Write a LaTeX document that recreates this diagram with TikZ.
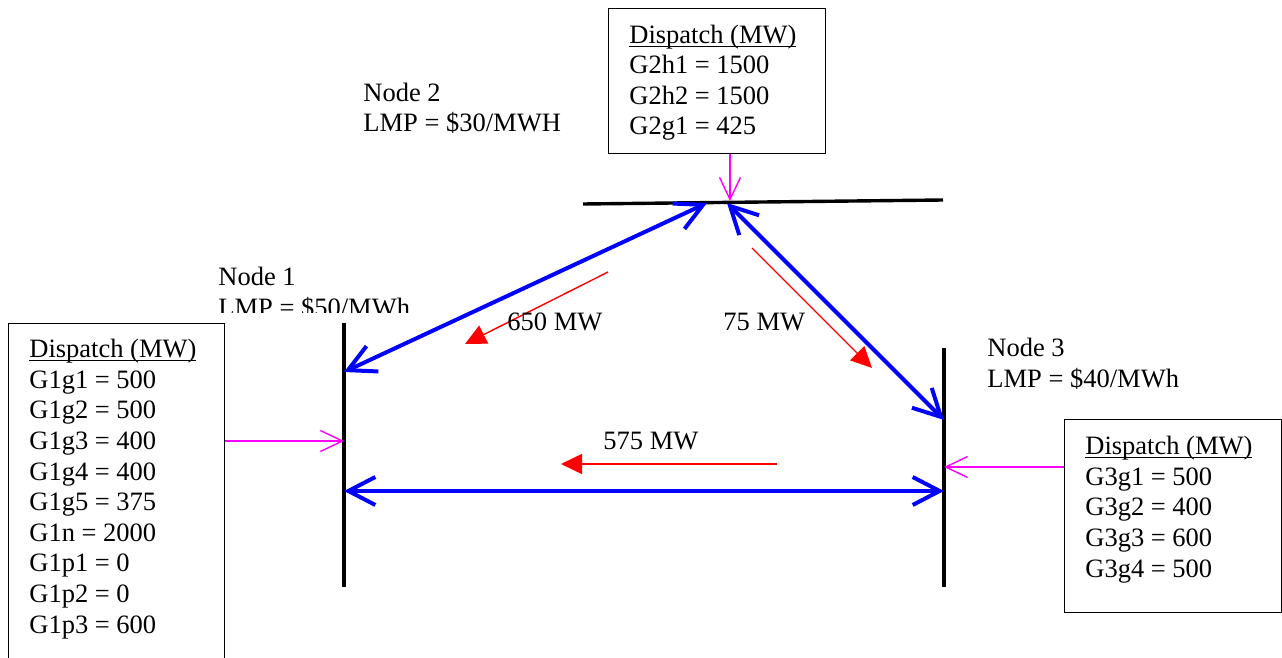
\documentclass[tikz,border=0pt]{standalone}
\usepackage{fontspec}
\setmainfont{Liberation Serif}
\usetikzlibrary{arrows.meta}
\definecolor{injmagenta}{RGB}{255,0,255}
\newcommand{\disphead}{\underline{\smash{Dispatch (MW)}}}
\tikzset{
  lbl/.style={font=\fontsize{13.25}{15.3}\selectfont, inner sep=0pt, anchor=base west, align=left},
  dispbox/.style={draw, line width=0.7pt, anchor=north west, inner sep=0pt},
  bus/.style={line width=1.7pt, line cap=butt},
  tieline/.style={blue, line width=2pt,
    {Straight Barb[length=13.5pt,width=14pt]}-{Straight Barb[length=13.5pt,width=14pt]}},
  inject/.style={injmagenta, line width=0.7pt, -{Straight Barb[length=11pt,width=10.5pt]}},
  flow/.style={red, line width=0.7pt, -{Triangle[length=10.5pt,width=10pt]}}
}
\begin{document}
\begin{tikzpicture}[x=0.5pt, y=-0.5pt]
  \useasboundingbox (0,0) rectangle (1282,658);
  \clip (0,0) rectangle (1282,658);
  % Buses
  \coordinate (b1t) at (344,323);
  \coordinate (b1b) at (344,587);
  \coordinate (b2l) at (583,204);
  \coordinate (b2r) at (943,200);
  \coordinate (b3t) at (944,348);
  \coordinate (b3b) at (944,587);
  \draw[bus] (b1t) -- (b1b);
  \draw[bus] (b2l) -- (b2r);
  \draw[bus] (b3t) -- (b3b);
  % Points on the buses
  \coordinate (p12) at (344,372);
  \coordinate (p21) at (707,203);
  \coordinate (p23) at (727,203);
  \coordinate (p32) at (944,420);
  \coordinate (p13) at (344,491);
  \coordinate (p31) at (944,491);
  \coordinate (in1) at (344,441);
  \coordinate (in2) at (730,201);
  \coordinate (in3) at (944,467);
  % Dispatch boxes (text sits on the baseline of its last line)
  \node[dispbox, minimum width=108pt, minimum height=190pt] (box1) at (8,323) {};
  \node[dispbox, minimum width=108.5pt, minimum height=72.5pt] (box2) at (608,8) {};
  \node[dispbox, minimum width=108.5pt, minimum height=96.5pt] (box3) at (1064,419) {};
  \node[lbl] (disp1) at (29,633) {\disphead\\G1g1 = 500\\G1g2 = 500\\G1g3 = 400\\G1g4 = 400\\G1g5 = 375\\G1n = 2000\\G1p1 = 0\\G1p2 = 0\\G1p3 = 600};
  \node[lbl] (disp2) at (629,135) {\disphead\\G2h1 = 1500\\G2h2 = 1500\\G2g1 = 425};
  \node[lbl] (disp3) at (1085,577) {\disphead\\G3g1 = 500\\G3g2 = 400\\G3g3 = 600\\G3g4 = 500};
  % Node labels
  \begin{scope}
    \clip (200,250) rectangle (430,313);
    \node[lbl] (node1) at (218,316) {Node 1\\LMP = \$50/MWh};
  \end{scope}
  \node[lbl] (node2) at (363,132) {Node 2\\LMP = \$30/MWH};
  \node[lbl] (node3) at (987,387) {Node 3\\LMP = \$40/MWh};
  % Injections
  \draw[inject] (box1.east |- in1) -- (in1);
  \draw[inject] (box2.south -| in2) -- (in2);
  \draw[inject] (box3.west |- in3) -- (in3);
  % Lines
  \draw[tieline] (p12) -- (p21);
  \draw[tieline] (p23) -- (p32);
  \draw[tieline] (p13) -- (p31);
  % Flows
  \coordinate (f1s) at (608,272);
  \coordinate (f1e) at (465,344);
  \coordinate (f2s) at (752,248);
  \coordinate (f2e) at (872,368);
  \coordinate (f3s) at (777,464);
  \coordinate (f3e) at (561,464);
  \draw[flow] (f1s) -- (f1e);
  \draw[flow] (f2s) -- (f2e);
  \draw[flow] (f3s) -- (f3e);
  \node[lbl] (flow12) at (507,330) {650 MW};
  \node[lbl] (flow23) at (723,330) {75 MW};
  \node[lbl] (flow31) at (603,450) {575 MW};
\end{tikzpicture}
\end{document}
